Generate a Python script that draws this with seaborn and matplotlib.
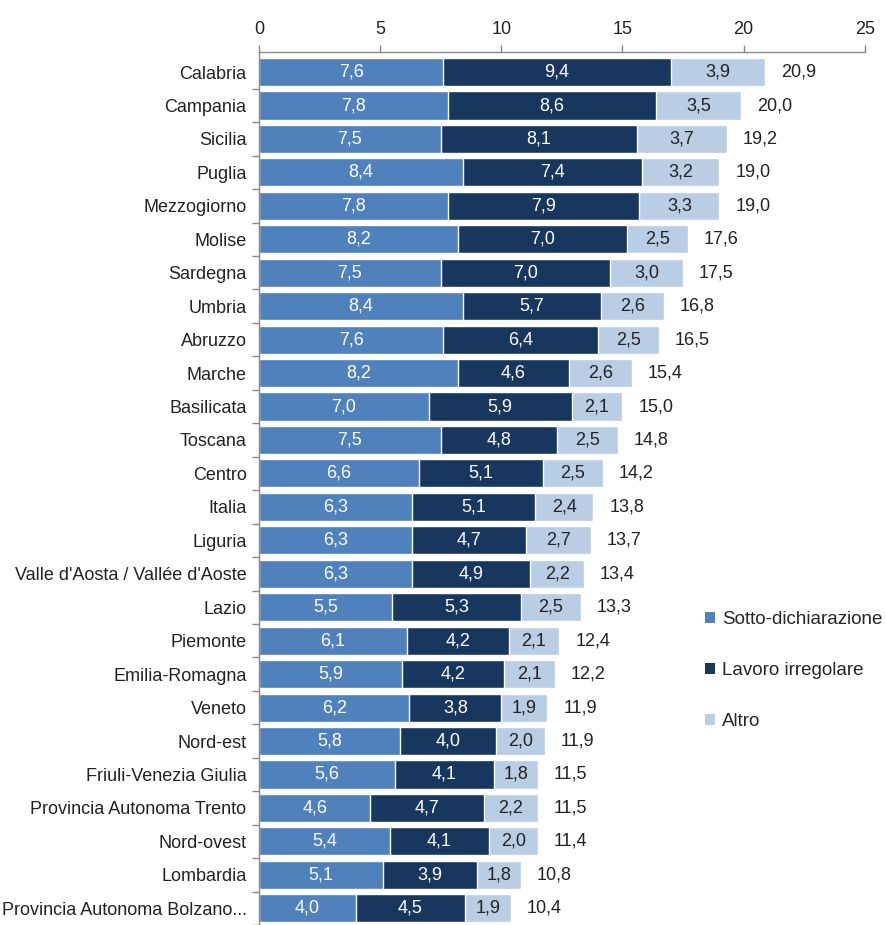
import matplotlib
matplotlib.use("Agg")
import matplotlib.pyplot as plt
import seaborn as sns
import pandas as pd
import numpy as np
from matplotlib.patches import Patch

regions = [
    "Calabria", "Campania", "Sicilia", "Puglia", "Mezzogiorno", "Molise",
    "Sardegna", "Umbria", "Abruzzo", "Marche", "Basilicata", "Toscana",
    "Centro", "Italia", "Liguria", "Valle d'Aosta / Vallée d'Aoste", "Lazio",
    "Piemonte", "Emilia-Romagna", "Veneto", "Nord-est", "Friuli-Venezia Giulia",
    "Provincia Autonoma Trento", "Nord-ovest", "Lombardia",
    "Provincia Autonoma Bolzano...",
]
sotto = [7.6, 7.8, 7.5, 8.4, 7.8, 8.2, 7.5, 8.4, 7.6, 8.2, 7.0, 7.5, 6.6,
         6.3, 6.3, 6.3, 5.5, 6.1, 5.9, 6.2, 5.8, 5.6, 4.6, 5.4, 5.1, 4.0]
lavoro = [9.4, 8.6, 8.1, 7.4, 7.9, 7.0, 7.0, 5.7, 6.4, 4.6, 5.9, 4.8, 5.1,
          5.1, 4.7, 4.9, 5.3, 4.2, 4.2, 3.8, 4.0, 4.1, 4.7, 4.1, 3.9, 4.5]
altro = [3.9, 3.5, 3.7, 3.2, 3.3, 2.5, 3.0, 2.6, 2.5, 2.6, 2.1, 2.5, 2.5,
         2.4, 2.7, 2.2, 2.5, 2.1, 2.1, 1.9, 2.0, 1.8, 2.2, 2.0, 1.8, 1.9]
totale = [20.9, 20.0, 19.2, 19.0, 19.0, 17.6, 17.5, 16.8, 16.5, 15.4, 15.0,
          14.8, 14.2, 13.8, 13.7, 13.4, 13.3, 12.4, 12.2, 11.9, 11.9, 11.5,
          11.5, 11.4, 10.8, 10.4]
series_names = ["Sotto-dichiarazione", "Lavoro irregolare", "Altro"]
series_colors = ["#4F81BD", "#17375E", "#B9CDE5"]
x_ticks = [0, 5, 10, 15, 20, 25]

sns.set_theme(style="white")
plt.rcParams["font.family"] = ["Liberation Sans", "DejaVu Sans"]

FS = 13

df = pd.DataFrame({"regione": regions, "s1": sotto, "s2": lavoro, "s3": altro,
                   "tot": totale})
df["c1"] = df["s1"]
df["c2"] = df["s1"] + df["s2"]
df["c3"] = df["c2"] + df["s3"]

fig = plt.figure(figsize=(8.87, 9.25), dpi=100)
ax = fig.add_axes([0.292, 0.0, 0.683, 0.9438])

# Stacked bars drawn as cumulative layers, outermost first
for col, color in zip(["c3", "c2", "c1"], series_colors[::-1]):
    sns.barplot(data=df, x=col, y="regione", orient="h", color=color,
                width=0.84, edgecolor="white", linewidth=1.0,
                saturation=1, ax=ax)

def fmt(v):
    return f"{v:.1f}".replace(".", ",")

for i, row in df.iterrows():
    ax.text(row["s1"] / 2, i, fmt(row["s1"]), ha="center", va="center",
            color="white", fontsize=FS)
    ax.text(row["c1"] + row["s2"] / 2, i, fmt(row["s2"]), ha="center",
            va="center", color="white", fontsize=FS)
    ax.text(row["c2"] + row["s3"] / 2, i, fmt(row["s3"]), ha="center",
            va="center", color="#222222", fontsize=FS)
    ax.text(row["c3"] + 0.65, i, fmt(row["tot"]), ha="left", va="center",
            color="#222222", fontsize=FS)

ax.set_xlim(0, 25)
ax.set_ylim(25.35, -0.6)
ax.set_xticks(x_ticks)
ax.set_xticklabels([str(t) for t in x_ticks])
ax.xaxis.tick_top()
ax.set_xlabel("")
ax.set_ylabel("")
ax.set_yticks(range(len(regions)))
ax.set_yticklabels(regions)
ax.tick_params(axis="y", length=0, pad=9, labelsize=FS, labelcolor="#222222")
ax.tick_params(axis="x", top=True, bottom=False, length=5, width=1,
               color="#888888", labelsize=FS, labelcolor="#222222", pad=5)
# category separators on the vertical axis
ax.set_yticks(np.arange(len(regions)) + 0.5, minor=True)
ax.tick_params(axis="y", which="minor", left=True, length=5, width=1,
               color="#888888")
for side in ["right", "bottom"]:
    ax.spines[side].set_visible(False)
for side in ["top", "left"]:
    ax.spines[side].set_color("#888888")
    ax.spines[side].set_linewidth(1)

handles = [Patch(facecolor=c, edgecolor="none") for c in series_colors]
fig.legend(handles, series_names, loc="upper left",
           bbox_to_anchor=(0.795, 0.339), frameon=False, fontsize=13.5,
           handlelength=0.55, handleheight=0.55, handletextpad=0.35,
           labelspacing=1.8, borderaxespad=0, borderpad=0)

fig.savefig("out.png", dpi=100)
